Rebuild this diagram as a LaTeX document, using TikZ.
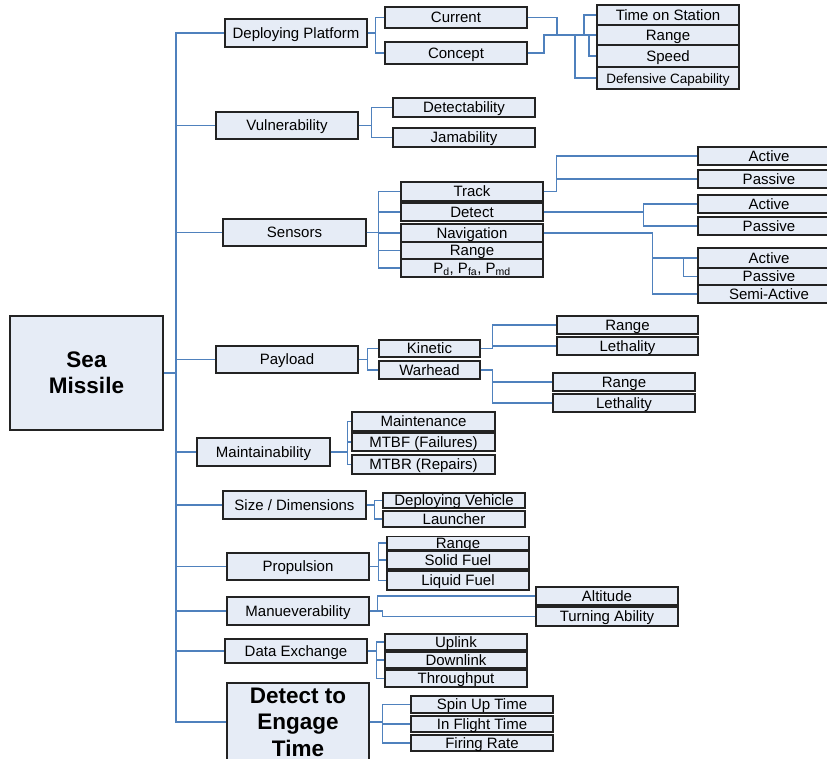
\documentclass[tikz,border=0pt]{standalone}
\usepackage{fontspec}
\setmainfont{Liberation Sans}
\usepackage{tikz}
\usetikzlibrary{positioning,shadows}
\definecolor{LinkBlue}{RGB}{79,129,189}
\definecolor{BoxFill}{RGB}{230,236,246}
\definecolor{BoxLine}{RGB}{35,35,35}

\begin{document}
\begin{tikzpicture}[
  x=1pt,y=-1pt,
  frame/.style={rectangle,draw=BoxLine,line width=1.1pt,fill=BoxFill,inner sep=0pt,align=center,minimum width=142pt,minimum height=18pt,
    drop shadow={shadow xshift=1pt,shadow yshift=-1pt,opacity=0.3}},
  box/.style={frame,text height=11.6pt,text depth=1.2pt,font=\fontsize{15}{15}\selectfont},
  big/.style={frame,font=\fontsize{22.5}{26.5}\selectfont\bfseries},
  link/.style={draw=LinkBlue,line width=1.2pt}
]
\useasboundingbox (0,0) rectangle (827,759);

\node[big,minimum width=153pt,minimum height=114pt] (sea) at (86.5,373) {Sea\\Missile};

% first level
\node[box,minimum height=28pt] (dpl) at (296,33) {Deploying Platform};
\node[box,minimum height=27pt] (vul) at (287,125.5) {Vulnerability};
\node[box,minimum width=143pt,minimum height=27pt] (sen) at (294.5,232.5) {Sensors};
\node[box,minimum height=27pt] (pay) at (287,359.5) {Payload};
\node[box,minimum width=133pt,minimum height=28pt] (mnt) at (263.5,452) {Maintainability};
\node[box,minimum width=143pt,minimum height=28pt] (siz) at (294.5,505) {Size / Dimensions};
\node[box,minimum height=27pt] (pro) at (298,566.5) {Propulsion};
\node[box,minimum height=28pt] (man) at (298,611) {Manueverability};
\node[box,minimum height=24pt] (dex) at (296,651) {Data Exchange};
\node[big,minimum height=78pt] (dte) at (298,722) {Detect to\\Engage\\Time};

% deploying platform
\node[box,minimum height=21pt] (cur) at (456,17.5) {Current};
\node[box,minimum height=22pt] (con) at (456,53) {Concept};
\node[box,minimum height=20pt] (tos) at (668,15) {Time on Station};
\node[box,minimum height=20pt] (rg1) at (668,35) {Range};
\node[box,minimum height=22pt] (spd) at (668,56) {Speed};
\node[box,minimum height=22pt,font=\fontsize{13.5}{14}\selectfont] (dcap) at (668,78) {Defensive Capability};

% vulnerability
\node[box,minimum height=19pt] (dtb) at (464,107.5) {Detectability};
\node[box,minimum height=19pt] (jam) at (464,137.5) {Jamability};

% sensors
\node[box,minimum height=19pt] (trk) at (472,191.5) {Track};
\node[box] (dtc) at (472,212) {Detect};
\node[box] (nav) at (472,233) {Navigation};
\node[box,minimum height=17pt] (rg2) at (472,250.5) {Range};
\node[box] (pdf) at (472,268) {P\textsubscript{d}, P\textsubscript{fa}, P\textsubscript{md}};
\node[box] (tra) at (769,156) {Active};
\node[box] (trp) at (769,179) {Passive};
\node[box] (dta) at (769,204) {Active};
\node[box] (dtp) at (769,226) {Passive};
\node[box,minimum height=20pt] (naa) at (769,258) {Active};
\node[box,minimum height=17pt] (nap) at (769,276.5) {Passive};
\node[box] (nsa) at (769,294) {Semi-Active};

% payload
\node[box,minimum width=101pt,minimum height=17pt] (kin) at (429.5,348.5) {Kinetic};
\node[box,minimum width=101pt] (war) at (429.5,370) {Warhead};
\node[box,minimum width=141pt] (kr) at (627.5,325) {Range};
\node[box,minimum width=141pt] (kl) at (627.5,346) {Lethality};
\node[box] (wr) at (624,382) {Range};
\node[box] (wl) at (624,403) {Lethality};

% maintainability
\node[box,minimum width=143pt,minimum height=19pt] (mnc) at (423.5,421.5) {Maintenance};
\node[box,minimum width=143pt] (mtbf) at (423.5,442) {MTBF (Failures)};
\node[box,minimum width=143pt,minimum height=19pt] (mtbr) at (423.5,464.5) {MTBR (Repairs)};

% size, propulsion, manoeuvre
\node[box,minimum height=15pt] (dv) at (454,500.5) {Deploying Vehicle};
\node[box,minimum height=16pt] (lau) at (454,519) {Launcher};
\node[box,minimum height=12pt] (rg3) at (458,543) {Range};
\node[box] (sf) at (458,560) {Solid Fuel};
\node[box,minimum height=19pt] (lf) at (458,580.5) {Liquid Fuel};
\node[box] (alt) at (607,596) {Altitude};
\node[box,minimum height=19pt] (tur) at (607,616.5) {Turning Ability};

% data exchange, engage time
\node[box,minimum height=16pt] (up) at (456,642) {Uplink};
\node[box,minimum height=16pt] (dn) at (456,660) {Downlink};
\node[box,minimum height=17pt] (thr) at (456,678.5) {Throughput};
\node[box,minimum height=17pt] (spin) at (482,704.5) {Spin Up Time};
\node[box,minimum height=16pt] (inf) at (482,724) {In Flight Time};
\node[box,minimum height=16pt] (fir) at (482,743) {Firing Rate};

% trunk
\coordinate (trunk) at (176,373);
\draw[link,line width=1.8pt] (sea.east) -- (trunk);
\foreach \n in {dpl,vul,sen,pay,mnt,siz,pro,man,dex,dte}
  \draw[link] (trunk) |- (\n.west);

% branches
\foreach \n in {cur,con} \draw[link] (dpl.east) -- +(8,0) |- (\n.west);
\coordinate (jcur) at (557,35);
\coordinate (jcon) at (544,35);
\draw[link] (cur.east) -| (jcur);
\draw[link] (con.east) -| (jcon) -- (rg1.west);
\draw[link] (jcur) -- +(27,0) |- (tos.west);
\draw[link] (jcur) -- +(32,0) |- (spd.west);
\draw[link] (jcur) -- +(18,0) |- (dcap.west);

\foreach \n in {dtb,jam} \draw[link] (vul.east) -- +(13,0) |- (\n.west);

\foreach \n in {trk,dtc,nav,rg2,pdf} \draw[link] (sen.east) -- +(12,0) |- (\n.west);
\foreach \n in {tra,trp} \draw[link] (trk.east) -- +(13,0) |- (\n.west);
\foreach \n in {dta,dtp} \draw[link] (dtc.east) -- +(100,0) |- (\n.west);
\foreach \n in {naa,nsa} \draw[link] (nav.east) -- +(109,0) |- (\n.west);
\draw[link] (naa.west) ++(-14,0) |- (nap.west);

\foreach \n in {kin,war} \draw[link] (pay.east) -- +(9,0) |- (\n.west);
\foreach \n in {kr,kl} \draw[link] (kin.east) -- +(12,0) |- (\n.west);
\foreach \n in {wr,wl} \draw[link] (war.east) -- +(12,0) |- (\n.west);

\foreach \n in {mnc,mtbf,mtbr} \draw[link] (mnt.east) -- +(17,0) |- (\n.west);
\foreach \n in {dv,lau} \draw[link] (siz.east) -- +(8,0) |- (\n.west);
\foreach \n in {rg3,sf,lf} \draw[link] (pro.east) -- +(9,0) |- (\n.west);
\draw[link] (man.east) -- +(8,0) |- (alt.west);
\draw[link] (man.east) -- +(13,0) |- (tur.west);
\foreach \n in {up,dn,thr} \draw[link] (dex.east) -- +(9,0) |- (\n.west);
\foreach \n in {spin,inf,fir} \draw[link] (dte.east) -- +(13,0) |- (\n.west);
\end{tikzpicture}
\end{document}
